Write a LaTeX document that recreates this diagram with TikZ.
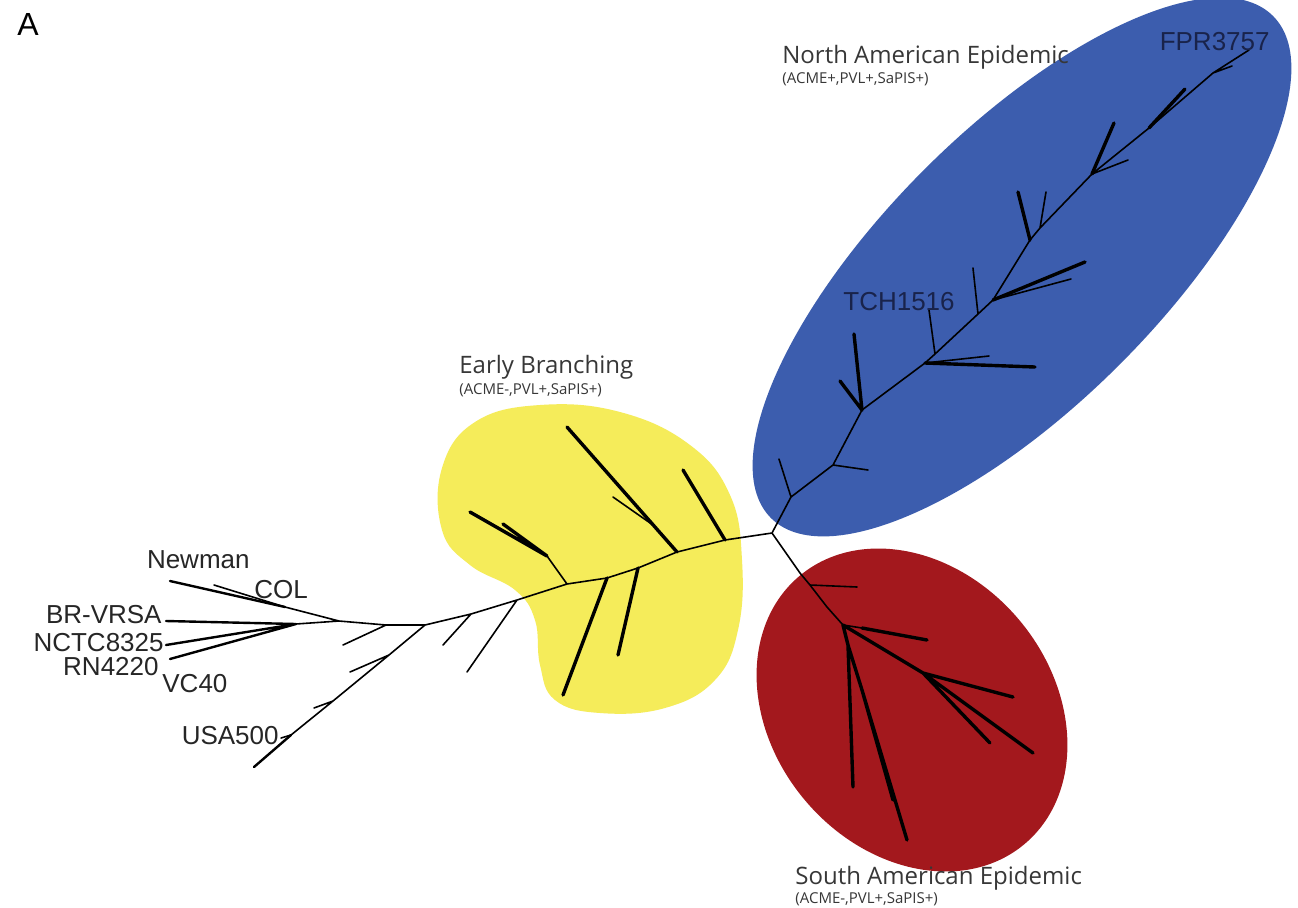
\documentclass[tikz,border=0pt]{standalone}
\usepackage{fontspec}
\setmainfont{Liberation Sans}
\newfontfamily\cladefont{Open Sans}
\definecolor{earlyyellow}{RGB}{245,236,90}
\definecolor{nablue}{RGB}{60,93,174}
\definecolor{sared}{RGB}{163,24,29}
\definecolor{labgray}{RGB}{55,55,55}
\definecolor{navytext}{RGB}{25,35,75}

\begin{document}
\begin{tikzpicture}[x=0.5pt,y=-0.5pt,
    branch/.style={line width=0.8pt,line cap=round,line join=round},
    leafline/.style={line width=1.2pt,line cap=round},
    fan/.style={line width=1.7pt,line cap=round},
    strain/.style={font=\fontsize{13}{13}\selectfont,inner sep=0pt,text=black!85},
    clade/.style={font=\cladefont\fontsize{12}{14}\selectfont,text=labgray,inner sep=0pt},
    marker/.style={font=\cladefont\fontsize{7.5}{9}\selectfont,text=labgray,inner sep=0pt}]
  \useasboundingbox (0,0) rectangle (1298,907);
  \fill[white] (0,0) rectangle (1298,907);

  % clade areas
  \fill[nablue,rotate around={45:(1022,267)}] (1022,267) ellipse [x radius=355,y radius=138];
  \fill[sared,rotate around={-50:(912,710)}] (912,710) ellipse [x radius=175,y radius=140];
  \fill[earlyyellow] plot[smooth cycle,tension=0.7] coordinates {
    (475,422) (540,405) (620,412) (690,445) (730,495) (742,560) (738,630)
    (715,680) (665,708) (600,713) (555,700) (540,665) (535,620) (515,590)
    (470,565) (442,530) (442,468)};

  % backbone
  \coordinate (root) at (772,533);
  \coordinate (y1) at (725,540);
  \coordinate (y2) at (677,552);
  \coordinate (y3) at (638,568);
  \coordinate (y4) at (607,578);
  \coordinate (y5) at (567,584);
  \coordinate (y6) at (517,600);
  \coordinate (o1) at (471,614);
  \coordinate (o2) at (425,625);
  \coordinate (o3) at (386,625);
  \coordinate (o4) at (339,621);
  \coordinate (o5) at (296,624);
  % early branching
  \coordinate (a1) at (547,556);
  \coordinate (ta) at (470,512);
  \coordinate (ta2) at (503,524);
  \coordinate (yb) at (653,525);
  \coordinate (tb) at (567,427);
  \coordinate (tb2) at (613,497);
  \coordinate (tc) at (683,470);
  \coordinate (td) at (563,695);
  \coordinate (te) at (618,655);
  \coordinate (tf) at (467,672);
  \coordinate (tg) at (443,645);
  % outgroup
  \coordinate (th) at (343,645);
  \coordinate (u1) at (389,655);
  \coordinate (u2) at (333,701);
  \coordinate (u3) at (291,735);
  \coordinate (tu1) at (350,672);
  \coordinate (tu2) at (314,708);
  \coordinate (tu3) at (281,738);
  \coordinate (tusa) at (254,767);
  \coordinate (nw) at (285,607);
  \coordinate (tnew) at (170,581);
  \coordinate (tcol) at (214,585);
  \coordinate (tbr) at (166,621);
  \coordinate (tnc) at (166,645);
  \coordinate (trn) at (170,659);
  % north american
  \coordinate (p1) at (791,497);
  \coordinate (p2) at (833,465);
  \coordinate (p3) at (862,410);
  \coordinate (p4) at (925,363);
  \coordinate (p4a) at (935,354);
  \coordinate (p5a) at (978,314);
  \coordinate (p5) at (993,300);
  \coordinate (p6) at (1030,240);
  \coordinate (p6a) at (1040,228);
  \coordinate (p7) at (1092,174);
  \coordinate (p8) at (1149,128);
  \coordinate (p9) at (1213,73);
  \coordinate (tfpr) at (1249,50);
  \coordinate (q1) at (779,459);
  \coordinate (q2) at (868,470);
  \coordinate (q3) at (854,334);
  \coordinate (q4) at (840,381);
  \coordinate (q5) at (1035,367);
  \coordinate (q6) at (989,356);
  \coordinate (q7) at (929,310);
  \coordinate (q8) at (1085,262);
  \coordinate (q9) at (1071,279);
  \coordinate (q10) at (973,268);
  \coordinate (q11) at (1018,192);
  \coordinate (q12) at (1046,192);
  \coordinate (q13) at (1114,123);
  \coordinate (q14) at (1128,160);
  \coordinate (q15) at (1185,89);
  \coordinate (q16) at (1232,66);
  % south american
  \coordinate (s1) at (800,573);
  \coordinate (s1b) at (810,585);
  \coordinate (s2) at (827,607);
  \coordinate (s3) at (843,625);
  \coordinate (s3b) at (862,628);
  \coordinate (s4) at (923,673);
  \coordinate (s5) at (848,645);
  \coordinate (s6) at (862,690);
  \coordinate (ts1) at (1013,697);
  \coordinate (ts2) at (857,587);
  \coordinate (ts3) at (927,640);
  \coordinate (ts4) at (1033,753);
  \coordinate (ts5) at (990,743);
  \coordinate (ts6) at (853,787);
  \coordinate (ts7) at (907,840);
  \coordinate (ts8) at (893,800);

  \draw[branch] (o5) -- (o4) -- (o3) -- (o2) -- (o1) -- (y6) -- (y5)
    -- (y4) -- (y3) -- (y2) -- (y1) -- (root)
    (root) -- (p1) -- (p2) -- (p3) -- (p4) -- (p4a) -- (p5a) -- (p5) -- (p6)
    -- (p6a) -- (p7) -- (p8) -- (p9) -- (tfpr)
    (root) -- (s1) -- (s1b) -- (s2) -- (s3)
    (o4) -- (nw) (nw) -- (tcol)
    (o3) -- (th) (o1) -- (tg)
    (o2) -- (u1) -- (u2) -- (u3)
    (u1) -- (tu1) (u2) -- (tu2) (u3) -- (tu3)
    (y6) -- (tf) (y5) -- (a1) (yb) -- (tb2)
    (p1) -- (q1) (p2) -- (q2) (p4) -- (q6) (p4a) -- (q7) (p5a) -- (q10)
    (p5) -- (q9) (p6a) -- (q12) (p7) -- (q14) (p9) -- (q16)
    (s1b) -- (ts2) (s3) -- (s3b);
  \draw[leafline] (nw) -- (tnew) (o5) -- (tbr) (o5) -- (tnc) (o5) -- (trn)
    (u3) -- (tusa);
  \draw[fan] (a1) -- (ta) (a1) -- (ta2) (y2) -- (tb) (y1) -- (tc)
    (y4) -- (td) (y3) -- (te)
    (p3) -- (q3) (p3) -- (q4) (p4) -- (q5) (p5) -- (q8) (p6) -- (q11)
    (p7) -- (q13) (p8) -- (q15)
    (s3) -- (s4) -- (ts1) (s3b) -- (ts3) (s4) -- (ts4) (s4) -- (ts5)
    (s3) -- (s5) -- (ts6) (s5) -- (s6) -- (ts7) (s6) -- (ts8);

  % labels
  \node[font=\fontsize{16}{16}\selectfont,anchor=base west,inner sep=0pt] (panel) at (17,35) {A};
  \node[strain,anchor=base east] (newman) at (250,568) {Newman};
  \node[strain,anchor=base west] (col) at (254,598) {COL};
  \node[strain,anchor=base east] (brvrsa) at (162,623) {BR-VRSA};
  \node[strain,anchor=base east] (nctc) at (164,651) {NCTC8325};
  \node[strain,anchor=base east] (rn) at (159,675) {RN4220};
  \node[strain,anchor=base west] (vc) at (162,692) {VC40};
  \node[strain,anchor=base east] (usa) at (279,744) {USA500};
  \node[strain,anchor=base west,text=navytext] (tch) at (843,310) {TCH1516};
  \node[strain,anchor=base east,text=navytext] (fpr) at (1270,50) {FPR3757};
  \node[clade,anchor=base west] (natitle) at (782,63) {North American Epidemic};
  \node[marker,anchor=base west] (namark) at (782,83) {(ACME+,PVL+,SaPIS+)};
  \node[clade,anchor=base west] (ebtitle) at (459,373) {Early Branching};
  \node[marker,anchor=base west] (ebmark) at (459,394) {(ACME-,PVL+,SaPIS+)};
  \node[clade,anchor=base west] (satitle) at (795,884) {South American Epidemic};
  \node[marker,anchor=base west] (samark) at (795,903) {(ACME-,PVL+,SaPIS+)};
\end{tikzpicture}
\end{document}
